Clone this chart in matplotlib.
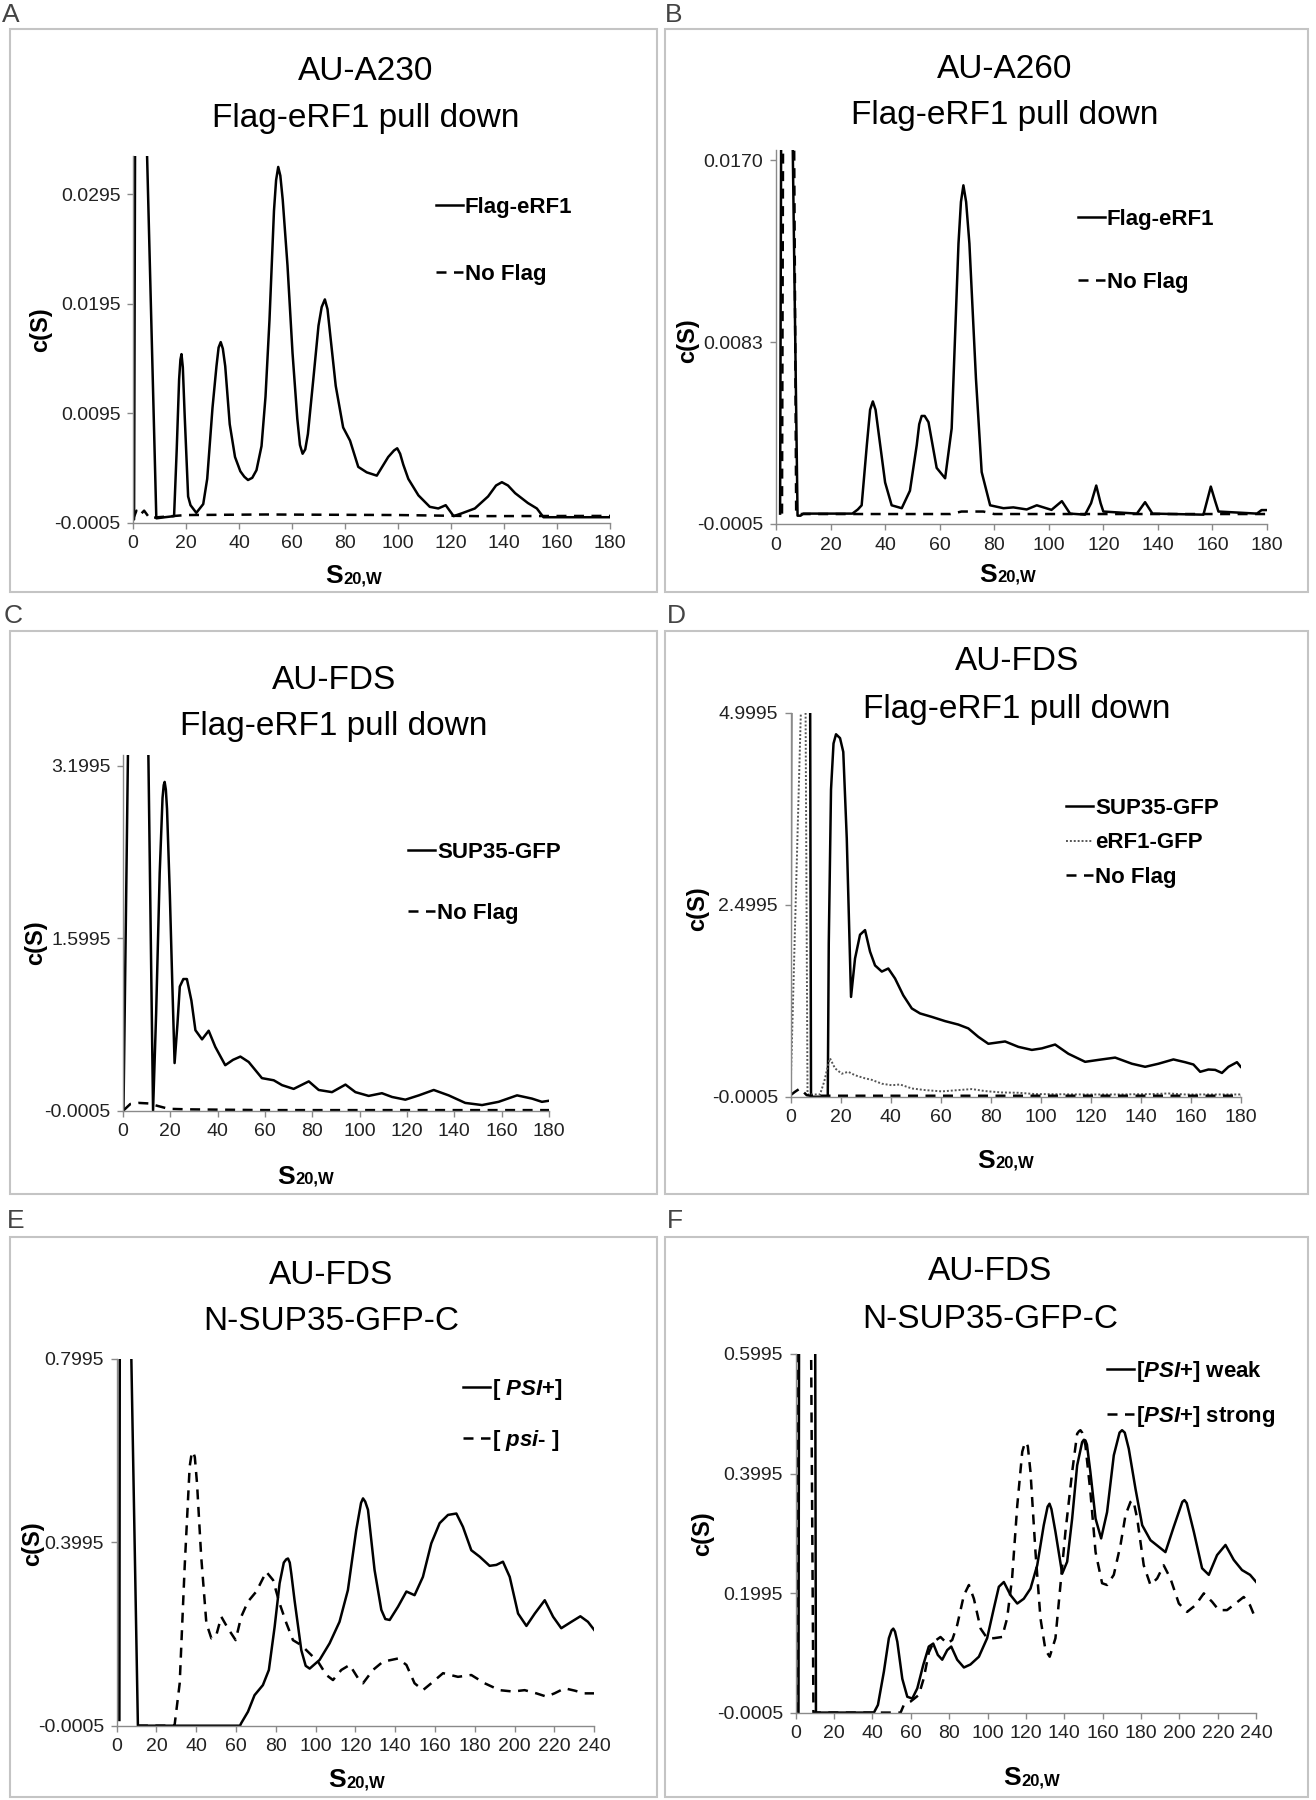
import numpy as np
import matplotlib
matplotlib.use("Agg")
import matplotlib.pyplot as plt
from matplotlib import font_manager
from matplotlib.patches import Rectangle

W, H = 1316, 1800

# ---- data: (S20,w, c(S)) pairs ----
a_flag = [(0, -0.0002), (0.4, -0.0002), (0.8, 0.036), (5.0, 0.036), (8.8, -0.0001), (12, 0.0), (15.5, 0.0001),
          (16.5, 0.0062), (17.4, 0.0126), (17.9, 0.0144), (18.3, 0.0149), (18.8, 0.0137), (19.5, 0.0093),
          (20.8, 0.0019), (21.7, 0.0011), (23.9, 0.0004), (26.5, 0.0012), (28, 0.0035), (30, 0.0100),
          (31.5, 0.0138), (32.3, 0.0155), (33.1, 0.0160), (33.9, 0.0154), (34.8, 0.0138), (36.5, 0.0085),
          (38.5, 0.0055), (40.5, 0.0042), (42, 0.0037), (43.4, 0.0034), (45, 0.0036), (46.6, 0.0043),
          (48.5, 0.0065), (50, 0.0110), (51.5, 0.0180), (53.2, 0.0280), (54.0, 0.0308), (54.8, 0.0320),
          (55.6, 0.0312), (56.5, 0.0290), (58.3, 0.0230), (60.2, 0.0150), (62, 0.0090), (63, 0.0066),
          (64, 0.0058), (65, 0.0062), (66, 0.0076), (68, 0.0125), (70, 0.0175), (71.2, 0.0192), (72.4, 0.0199),
          (73.4, 0.0190), (74.5, 0.0165), (76.5, 0.0120), (79.3, 0.0082), (81.9, 0.0070), (85, 0.0046),
          (88.2, 0.0041), (92, 0.0038), (96.3, 0.0055), (98.5, 0.0061), (99.7, 0.0063), (100.8, 0.0058),
          (102, 0.0048), (103.9, 0.0035), (107.7, 0.0020), (112, 0.00095), (115.2, 0.0008), (118, 0.0011),
          (121, 0.0001), (124, 0.00035), (129, 0.0008), (134, 0.0019), (137, 0.0029), (139.2, 0.0032),
          (141.5, 0.0029), (144.2, 0.0022), (149, 0.0013), (152.4, 0.0008), (154.9, 0.0), (160, 0.0), (180, 0.0)]
a_noflag = [(0, -0.0002), (1.3, 0.0006), (2.6, 0.0002), (4.2, 0.0006), (6.3, -0.0001), (9.4, 0.0),
            (20, 0.0002), (50, 0.00025), (100, 0.0002), (130, 0.0001), (180, 0.00012)]

b_flag = [(1.5, 0.0), (1.9, 0.019), (6.0, 0.019), (7.9, -0.0001), (9, -0.0001), (10, 0.0), (28, 0.0),
          (30, 0.0002), (31.4, 0.0004), (33.3, 0.0033), (34.5, 0.0050), (35.5, 0.0054), (36.5, 0.0050),
          (37.5, 0.0040), (40, 0.0015), (42.4, 0.0004), (46.1, 0.00026), (49.1, 0.0011), (51.6, 0.0033),
          (52.5, 0.0043), (53.4, 0.0047), (54.5, 0.0047), (55.9, 0.0044), (58.9, 0.0022), (62, 0.0017),
          (64.4, 0.0041), (66.9, 0.0130), (67.8, 0.0150), (68.7, 0.0158), (69.7, 0.0150), (70.9, 0.0130),
          (73.3, 0.0065), (75.4, 0.0020), (78.5, 0.0004), (83.4, 0.00026), (87, 0.0003), (91.9, 0.0002),
          (95.6, 0.0004), (101, 0.00018), (104.8, 0.0006), (107.8, 0.0), (113.3, -0.00005), (115.5, 0.0005),
          (117.4, 0.00135), (119, 0.0005), (120, 0.0001), (132.3, 0.0), (135.3, 0.00055), (138, 0.0),
          (156.7, -0.00005), (158, 0.0006), (159.4, 0.0013), (161, 0.0006), (162.2, 0.0001), (176.3, 0.0),
          (178, 0.00017), (180, 0.00017)]
b_noflag = [(2.2, 0.0), (2.6, 0.019), (6.6, 0.019), (7.4, 0.0), (8, -0.00002), (64, -0.00002), (68, 0.0001),
            (76, 0.0001), (80, -0.00002), (180, -0.00002)]

c_sup35 = [(0.2, 0.0), (2.2, 3.5), (10.6, 3.5), (12.7, -0.0005), (14, 0.9), (15.5, 2.2), (16.7, 2.9),
           (17.2, 3.02), (17.6, 3.05), (18.1, 2.98), (18.6, 2.8), (19.8, 2.0), (20.8, 1.2), (21.8, 0.44),
           (23, 0.8), (24, 1.15), (25.5, 1.22), (27, 1.22), (28.9, 1.02), (30.6, 0.745), (33.4, 0.66),
           (36.2, 0.74), (39, 0.59), (43.2, 0.42), (46.5, 0.47), (49.6, 0.50), (53.1, 0.45), (58.7, 0.30),
           (63.7, 0.28), (67.2, 0.235), (72.1, 0.20), (78.5, 0.27), (82.7, 0.19), (88.3, 0.17), (94, 0.24),
           (98.2, 0.17), (103.8, 0.135), (109.4, 0.16), (113.7, 0.125), (119.3, 0.10), (125, 0.14),
           (131.3, 0.19), (137.6, 0.14), (144.6, 0.07), (151.7, 0.05), (158.7, 0.08), (166.5, 0.14),
           (172.8, 0.11), (177, 0.08), (180, 0.09)]
c_noflag = [(0.2, 0.0), (3.1, 0.06), (6.6, 0.07), (10.8, 0.065), (15, 0.04), (19.3, 0.015), (27.7, 0.01),
            (60, 0.003), (180, 0.003)]

d_sup35 = [(0.0, -0.0005), (0.3, 6.0), (7.8, 6.0), (8.2, 0.0), (14.9, -0.0005), (15.3, 2.0), (16.2, 4.0),
           (17.2, 4.6), (18.2, 4.72), (19.8, 4.67), (21.1, 4.49), (22.5, 3.36), (24.2, 1.30), (25.8, 1.80),
           (27.8, 2.11), (29.8, 2.17), (31.8, 1.89), (33.8, 1.71), (36.5, 1.63), (39.1, 1.67), (41.8, 1.54),
           (45.1, 1.32), (48.5, 1.15), (51.8, 1.085), (56.5, 1.04), (61.8, 0.985), (67.1, 0.94), (71.1, 0.89),
           (75.1, 0.78), (79.1, 0.69), (85.8, 0.72), (91.1, 0.65), (96.5, 0.61), (100.5, 0.63), (105.8, 0.68),
           (111.1, 0.56), (117.8, 0.455), (123.1, 0.48), (129.8, 0.51), (136.5, 0.43), (141.8, 0.39),
           (147.1, 0.43), (153.1, 0.486), (157.8, 0.45), (161.1, 0.42), (163.8, 0.325), (167.1, 0.355),
           (169.8, 0.35), (172.5, 0.31), (175.1, 0.39), (178.5, 0.45), (180, 0.39)]
d_erf1 = [(0.0, 0.04), (4.3, 5.2), (6.0, 5.2), (6.8, 0.03), (11.8, 0.03), (13.5, 0.2), (15.3, 0.45),
          (15.8, 0.50), (17.8, 0.37), (20.5, 0.30), (23.1, 0.325), (25.8, 0.28), (29.8, 0.24), (32.5, 0.22),
          (36.5, 0.17), (40.5, 0.15), (43.8, 0.16), (48.5, 0.108), (53.8, 0.087), (60.5, 0.07), (67.1, 0.087),
          (72.5, 0.10), (77.8, 0.074), (84.5, 0.056), (91.1, 0.052), (97.8, 0.035), (117.8, 0.03),
          (131.1, 0.03), (144.5, 0.035), (151.1, 0.043), (157.8, 0.03), (180, 0.03)]
d_noflag = [(0.0, 0.02), (1.8, 0.065), (3.8, 0.108), (6.5, 0.02), (8, 0.013), (180, 0.013)]

e_psi_plus = [(1.4, 0.012), (1.6, 0.85), (7.2, 0.85), (10.7, -0.0005), (62, -0.0005), (62.6, 0.005),
              (66, 0.03), (69.3, 0.066), (73.5, 0.088), (76.5, 0.121), (79.4, 0.215), (81.9, 0.31),
              (84, 0.355), (85.2, 0.362), (86.1, 0.364), (87, 0.355), (87.8, 0.33), (89.4, 0.273),
              (92.8, 0.164), (95, 0.13), (97, 0.124), (102, 0.143), (107, 0.179), (112, 0.226), (116.2, 0.295),
              (120.4, 0.426), (122.8, 0.485), (123.8, 0.495), (124.9, 0.488), (126.3, 0.47), (129.6, 0.339),
              (133, 0.252), (135, 0.232), (137.2, 0.23), (141.4, 0.259), (145.6, 0.292), (149.7, 0.284),
              (153.9, 0.324), (158.1, 0.397), (162.3, 0.441), (166.5, 0.459), (170.7, 0.462), (174, 0.433),
              (178.2, 0.382), (182.4, 0.368), (187.4, 0.348), (190.8, 0.35), (194.1, 0.357), (197.5, 0.324),
              (201.7, 0.244), (205.9, 0.217), (210.1, 0.244), (215.1, 0.273), (219.3, 0.237), (223.4, 0.212),
              (228.5, 0.226), (233, 0.238), (236.8, 0.226), (240, 0.208)]
e_psi_minus = [(10.7, -0.0005), (29.1, -0.0005), (31.7, 0.092), (34.2, 0.346), (36.7, 0.564), (37.6, 0.59),
               (38.4, 0.597), (39.3, 0.585), (40.4, 0.528), (42.5, 0.368), (45.1, 0.223), (47.6, 0.19),
               (50.1, 0.197), (52.6, 0.237), (55.9, 0.212), (59.8, 0.186), (62.6, 0.237), (66, 0.27),
               (70.2, 0.292), (75.2, 0.335), (78.6, 0.317), (81.9, 0.266), (85.3, 0.223), (88.6, 0.186),
               (92.8, 0.175), (97, 0.157), (101.2, 0.139), (105.4, 0.11), (108.7, 0.099), (112.9, 0.121),
               (117.1, 0.132), (121.3, 0.103), (123.8, 0.092), (128.8, 0.121), (133.8, 0.139), (141.4, 0.146),
               (145.6, 0.132), (149.7, 0.092), (153.9, 0.077), (158.1, 0.092), (164, 0.114), (171.5, 0.106),
               (178.2, 0.11), (184.9, 0.092), (192.4, 0.077), (199.1, 0.074), (205, 0.077), (210.9, 0.07),
               (215.9, 0.063), (220, 0.07), (225.1, 0.081), (230.1, 0.076), (235.1, 0.07), (240, 0.07)]

f_weak = [(1.5, 0.0), (1.8, 0.65), (10.2, 0.65), (10.6, -0.0005), (40.8, -0.0005), (42.9, 0.0123), (46, 0.068),
          (48.6, 0.124), (50, 0.137), (50.9, 0.14), (51.8, 0.135), (53, 0.118), (55.6, 0.056), (58.2, 0.026),
          (60.8, 0.023), (63.4, 0.04), (66.5, 0.079), (69.4, 0.11), (71.7, 0.115), (74.1, 0.096), (76.4, 0.088),
          (79, 0.104), (81.1, 0.11), (84.2, 0.088), (87.7, 0.075), (91.1, 0.08), (95.5, 0.093), (99.8, 0.124),
          (103.3, 0.174), (105.9, 0.21), (108.5, 0.218), (112, 0.196), (115.5, 0.182), (118.9, 0.19),
          (122.4, 0.207), (125.9, 0.246), (129.3, 0.313), (131.3, 0.344), (132.3, 0.349), (133.3, 0.34),
          (135.4, 0.302), (138.9, 0.232), (141.5, 0.252), (144.1, 0.324), (146.7, 0.413), (149.3, 0.452),
          (150.2, 0.456), (151, 0.455), (151.8, 0.448), (153.6, 0.402), (156.3, 0.324), (159.2, 0.291),
          (162.3, 0.335), (165.8, 0.43), (168.8, 0.468), (170.1, 0.472), (171.5, 0.468), (173.6, 0.441),
          (177.1, 0.374), (180.6, 0.313), (184.9, 0.288), (189.2, 0.277), (192.7, 0.268), (197, 0.31),
          (201.5, 0.352), (202.6, 0.355), (203.8, 0.35), (207.5, 0.302), (211.8, 0.241), (215.3, 0.23),
          (219.6, 0.263), (224, 0.28), (228.3, 0.255), (232.6, 0.238), (236.8, 0.23), (240, 0.218)]
f_strong = [(1.0, 0.0), (1.3, 0.65), (8.0, 0.65), (9.3, -0.0005), (54.7, -0.0005), (56.4, 0.0123),
            (59.9, 0.018), (64.2, 0.029), (66.8, 0.057), (69.4, 0.1), (72, 0.118), (75.5, 0.126), (79, 0.115),
            (81.6, 0.121), (84.2, 0.146), (87.7, 0.196), (90.3, 0.213), (92.9, 0.19), (96.4, 0.14),
            (99.8, 0.124), (103.3, 0.124), (107.6, 0.126), (110.2, 0.157), (112.8, 0.224), (115.5, 0.346),
            (118.1, 0.436), (119.2, 0.448), (120.1, 0.452), (121, 0.445), (122.4, 0.402), (125, 0.268),
            (127.6, 0.157), (130.2, 0.104), (132.4, 0.093), (135.4, 0.124), (138, 0.213), (140.6, 0.302),
            (144.1, 0.402), (146.7, 0.466), (147.6, 0.47), (148.4, 0.472), (149.3, 0.468), (151, 0.447),
            (153.6, 0.369), (156.3, 0.268), (159.7, 0.216), (162.3, 0.213), (165.8, 0.23), (169.3, 0.28),
            (171.9, 0.33), (174.5, 0.352), (175.4, 0.355), (176.3, 0.35), (178, 0.324), (181.4, 0.246),
            (184.9, 0.213), (188.4, 0.224), (191.8, 0.246), (195.3, 0.224), (199.7, 0.182), (204, 0.168),
            (208.3, 0.179), (212.7, 0.199), (217, 0.185), (220.5, 0.171), (224.8, 0.171), (229.2, 0.182),
            (233.5, 0.193), (236.8, 0.179), (240, 0.154)]

# axis ticks
a_yticks = [-0.0005, 0.0095, 0.0195, 0.0295]
b_yticks = [-0.0005, 0.00825, 0.0170]
b_ylabels = ["-0.0005", "0.0083", "0.0170"]
c_yticks = [-0.0005, 1.5995, 3.1995]
d_yticks = [-0.0005, 2.4995, 4.9995]
e_yticks = [-0.0005, 0.3995, 0.7995]
f_yticks = [-0.0005, 0.1995, 0.3995, 0.5995]
x180 = list(range(0, 181, 20))
x240 = list(range(0, 241, 20))

# ---- fonts ----
names = {f.name for f in font_manager.fontManager.ttflist}
NARROW = "Liberation Sans Narrow" if "Liberation Sans Narrow" in names else "Liberation Sans"
TICKSIZE = 15 if NARROW == "Liberation Sans Narrow" else 14
plt.rcParams["font.family"] = ["Liberation Sans", "DejaVu Sans"]
plt.rcParams["mathtext.fontset"] = "custom"
plt.rcParams["mathtext.rm"] = "Liberation Sans:bold"
plt.rcParams["mathtext.bf"] = "Liberation Sans:bold"
plt.rcParams["mathtext.it"] = "Liberation Sans:italic:bold"
plt.rcParams["mathtext.bfit"] = "Liberation Sans:italic:bold"

fig = plt.figure(figsize=(W / 100, H / 100), dpi=100)


def fx(px):
    return px / W


def fy(py):
    return 1 - py / H


GRAY = "#8a8a8a"


def make_axes(l, r, t, b, xmax, xt, ytop, yt, ylab=None):
    ax = fig.add_axes([fx(l), fy(b), (r - l) / W, (b - t) / H])
    ax.set_xlim(0, xmax)
    ax.set_ylim(-0.0005, ytop)
    ax.set_xticks(xt)
    ax.set_yticks(yt)
    if ylab is None:
        ylab = ["%.4f" % v for v in yt]
    ax.set_yticklabels(ylab)
    for s in ["top", "right"]:
        ax.spines[s].set_visible(False)
    for s in ["left", "bottom"]:
        ax.spines[s].set_color(GRAY)
        ax.spines[s].set_linewidth(1.0)
    ax.tick_params(direction="out", length=4, width=1, color=GRAY, pad=5,
                   labelsize=TICKSIZE, labelcolor="#222222")
    for lab in ax.get_xticklabels() + ax.get_yticklabels():
        lab.set_family(NARROW)
    ax.patch.set_alpha(0)
    return ax


def series(ax, data, style, lw=1.8, color="black"):
    arr = np.array(data)
    return ax.plot(arr[:, 0], arr[:, 1], color=color, lw=lw, linestyle=style,
                   solid_joinstyle="round", dash_joinstyle="round")[0]


DASH = (0, (4, 3))
DOT = (0, (1, 1))


def legend(ax, handles, labels, x, top, spacing):
    ax.legend(handles, labels, loc="upper left", bbox_to_anchor=(fx(x), fy(top)),
              bbox_transform=fig.transFigure, frameon=False, borderpad=0, borderaxespad=0,
              handlelength=1.2, handletextpad=0.1, labelspacing=spacing,
              prop={"family": "Liberation Sans", "weight": "bold", "size": 16})


def decorate(letter, lx, ly, box, cx, y1, y2, t1, t2, ylx, yly, sx, sy):
    fig.text(fx(lx), fy(ly), letter, fontsize=19, color="#444444", va="top", ha="left")
    l, t, r, b = box
    fig.patches.append(Rectangle((fx(l), fy(b)), (r - l) / W, (b - t) / H, transform=fig.transFigure,
                                 fill=False, edgecolor="#c4c4c4", lw=1.5))
    fig.text(fx(cx), fy(y1), t1, fontsize=24, ha="center", va="baseline")
    fig.text(fx(cx), fy(y2), t2, fontsize=24, ha="center", va="baseline")
    fig.text(fx(ylx), fy(yly), "c(S)", fontsize=17, fontweight="bold", rotation=90,
             ha="center", va="center")
    fig.text(fx(sx), fy(sy), "S", fontsize=19, fontweight="bold", ha="right", va="baseline")
    fig.text(fx(sx), fy(sy), "20,W", fontsize=12, fontweight="bold", ha="left", va="baseline")


# ---- A ----
ax = make_axes(133, 610, 156, 522.7, 180, x180, 0.033, a_yticks)
h1 = series(ax, a_flag, "-")
h2 = series(ax, a_noflag, DASH)
legend(ax, [h1, h2], ["Flag-eRF1", "No Flag"], 436, 197, 2.05)
decorate("A", 2, 3, (10, 29, 657, 592), 366, 80, 127, "AU-A230", "Flag-eRF1 pull down",
         41, 330, 343, 583)

# ---- B ----
ax = make_axes(776, 1267, 150, 524, 180, x180, 0.0175, b_yticks, b_ylabels)
h1 = series(ax, b_flag, "-")
h2 = series(ax, b_noflag, DASH)
legend(ax, [h1, h2], ["Flag-eRF1", "No Flag"], 1078, 209, 1.87)
decorate("B", 665, 3, (665, 29, 1308, 592), 1005, 78, 124, "AU-A260", "Flag-eRF1 pull down",
         688, 341, 997, 582)

# ---- C ----
ax = make_axes(123, 549, 755, 1110.5, 180, x180, 3.30, c_yticks)
h1 = series(ax, c_sup35, "-")
h2 = series(ax, c_noflag, DASH)
legend(ax, [h1, h2], ["SUP35-GFP", "No Flag"], 408, 842, 1.78)
decorate("C", 4, 604, (10, 631, 657, 1194), 334, 689, 735, "AU-FDS", "Flag-eRF1 pull down",
         36, 943, 295, 1184)

# ---- D ----
ax = make_axes(790.5, 1240.7, 712.8, 1096.8, 180, x180, 4.9995, d_yticks)
h1 = series(ax, d_sup35, "-")
h2 = series(ax, d_erf1, DOT, lw=1.4, color="#555555")
h3 = series(ax, d_noflag, DASH)
legend(ax, [h1, h2, h3], ["SUP35-GFP", "eRF1-GFP", "No Flag"], 1066, 798, 0.6)
decorate("D", 667, 604, (665, 631, 1308, 1194), 1017, 670, 718, "AU-FDS", "Flag-eRF1 pull down",
         698, 909, 995, 1168)

# ---- E ----
ax = make_axes(116.6, 594.3, 1358.7, 1725.7, 240, x240, 0.7995, e_yticks)
h1 = series(ax, e_psi_plus, "-")
h2 = series(ax, e_psi_minus, DASH)
legend(ax, [h1, h2], [r"[ $\mathbfit{PSI}$+]", r"[ $\mathbfit{psi}$- ]"], 463, 1377, 1.15)
decorate("E", 7, 1209, (10, 1237, 657, 1797), 331, 1284, 1330, "AU-FDS", "N-SUP35-GFP-C",
         33, 1544, 346, 1787)

# ---- F ----
ax = make_axes(795.6, 1256.2, 1354, 1712.6, 240, x240, 0.5995, f_yticks)
h1 = series(ax, f_weak, "-")
h2 = series(ax, f_strong, DASH)
legend(ax, [h1, h2], [r"[$\mathbfit{PSI}$+] weak", r"[$\mathbfit{PSI}$+] strong"], 1107, 1359, 0.88)
decorate("F", 667, 1209, (665, 1237, 1308, 1797), 990, 1280, 1328, "AU-FDS", "N-SUP35-GFP-C",
         703, 1534, 1021, 1785)

fig.savefig("out.png", dpi=100, facecolor="white")
